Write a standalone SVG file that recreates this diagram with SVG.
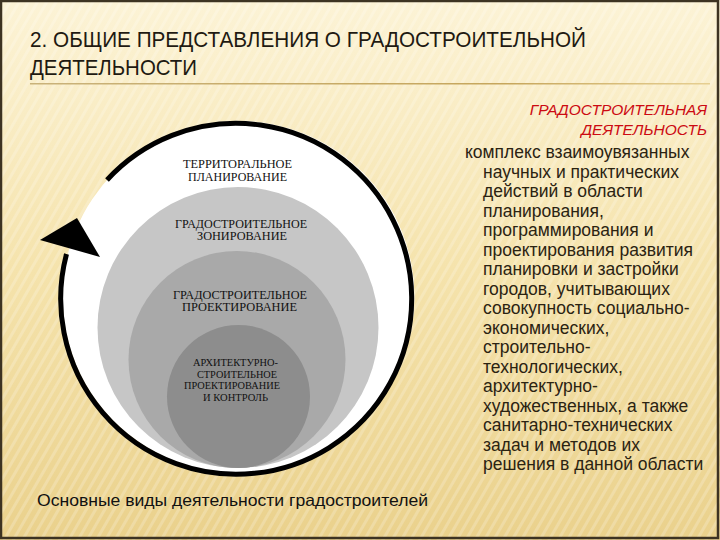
<svg xmlns="http://www.w3.org/2000/svg" width="720" height="540" viewBox="0 0 720 540">
<defs>
  <linearGradient id="bg" x1="0" y1="0" x2="0" y2="1">
    <stop offset="0" stop-color="#fcf3d6"/>
    <stop offset="0.5" stop-color="#f5e3ac"/>
    <stop offset="1" stop-color="#ead18c"/>
  </linearGradient>
  <pattern id="stripes" width="8" height="8" patternUnits="userSpaceOnUse" patternTransform="rotate(30)">
    <rect width="3" height="8" fill="#ffffff" opacity="0.2"/>
  </pattern>
  <linearGradient id="rule" x1="0" y1="0" x2="1" y2="0">
    <stop offset="0" stop-color="#c9b27a"/>
    <stop offset="0.7" stop-color="#c6a65c"/>
    <stop offset="1" stop-color="#e6cf92"/>
  </linearGradient>
  <style>
    .ring { font-family: "Liberation Serif", "DejaVu Serif", serif; font-size: 11.5px; fill: #111; text-anchor: middle; }
    .small { font-size: 10.5px; }
    .body { font-family: "Liberation Sans", Arial, sans-serif; font-size: 17.5px; fill: #2b2312; }
    .red { font-family: "Liberation Sans", Arial, sans-serif; font-size: 15.5px; font-style: italic; fill: #cc0a12; text-anchor: end; }
    .title { font-family: "Liberation Sans", Arial, sans-serif; font-size: 22px; fill: #1f1a12; }
  </style>
</defs>
<rect width="720" height="540" fill="url(#bg)"/>
<rect width="720" height="540" fill="url(#stripes)"/>
<rect x="1" y="1" width="717" height="537" fill="none" stroke="#3d3322" stroke-width="2.5"/>

<g id="title">
  <text class="title" x="30" y="47" textLength="556" lengthAdjust="spacingAndGlyphs">2. ОБЩИЕ ПРЕДСТАВЛЕНИЯ О ГРАДОСТРОИТЕЛЬНОЙ</text>
  <text class="title" x="30" y="75" textLength="167" lengthAdjust="spacingAndGlyphs">ДЕЯТЕЛЬНОСТИ</text>
  <rect x="30" y="83" width="680" height="1.5" fill="url(#rule)"/>
</g>

<g id="outer">
  <circle cx="238.5" cy="297" r="176" fill="#ffffff"/>
</g>
<g id="connectors">
  <path d="M 107 180 A 175.5 175.5 0 1 1 66.5 254" fill="none" stroke="#000" stroke-width="5"/>
  <polygon points="77,218 40,240 100,257" fill="#000"/>
</g>
<g id="node-planning">
  <text class="ring" x="237.5" y="168" textLength="109" lengthAdjust="spacingAndGlyphs">ТЕРРИТОРАЛЬНОЕ</text>
  <text class="ring" x="237.5" y="181" textLength="99" lengthAdjust="spacingAndGlyphs">ПЛАНИРОВАНИЕ</text>
</g>
<g id="node-zoning">
  <circle cx="238" cy="327.5" r="140.5" fill="#c6c6c6"/>
  <text class="ring" x="241" y="228" textLength="132" lengthAdjust="spacingAndGlyphs">ГРАДОСТРОИТЕЛЬНОЕ</text>
  <text class="ring" x="242" y="240" textLength="90" lengthAdjust="spacingAndGlyphs">ЗОНИРОВАНИЕ</text>
</g>
<g id="node-design">
  <circle cx="237" cy="359.5" r="108.5" fill="#a9a9a9"/>
  <text class="ring" x="240" y="299" textLength="134" lengthAdjust="spacingAndGlyphs">ГРАДОСТРОИТЕЛЬНОЕ</text>
  <text class="ring" x="239.5" y="311" textLength="115" lengthAdjust="spacingAndGlyphs">ПРОЕКТИРОВАНИЕ</text>
</g>
<g id="node-arch">
  <circle cx="238.5" cy="396.5" r="71.5" fill="#8d8d8d"/>
  <text class="ring small" x="235.5" y="366" textLength="85" lengthAdjust="spacingAndGlyphs">АРХИТЕКТУРНО-</text>
  <text class="ring small" x="237" y="377.5" textLength="80" lengthAdjust="spacingAndGlyphs">СТРОИТЕЛЬНОЕ</text>
  <text class="ring small" x="232" y="389" textLength="96" lengthAdjust="spacingAndGlyphs">ПРОЕКТИРОВАНИЕ</text>
  <text class="ring small" x="235.5" y="401" textLength="65" lengthAdjust="spacingAndGlyphs">И КОНТРОЛЬ</text>
</g>

<g id="caption">
  <text x="37" y="506" style="font-family:'Liberation Sans',Arial,sans-serif;font-size:16.5px;fill:#111" textLength="391" lengthAdjust="spacingAndGlyphs">Основные виды деятельности градостроителей</text>
</g>

<g id="definition">
  <text class="red" x="707" y="115">ГРАДОСТРОИТЕЛЬНАЯ</text>
  <text class="red" x="707" y="135">ДЕЯТЕЛЬНОСТЬ</text>
  <text class="body" x="465" y="158">комплекс взаимоувязанных</text>
  <text class="body" x="483" y="177.5">научных и практических</text>
  <text class="body" x="483" y="197">действий в области</text>
  <text class="body" x="483" y="216.5">планирования,</text>
  <text class="body" x="483" y="236">программирования и</text>
  <text class="body" x="483" y="255.5">проектирования развития</text>
  <text class="body" x="483" y="275">планировки и застройки</text>
  <text class="body" x="483" y="294.5">городов, учитывающих</text>
  <text class="body" x="483" y="314">совокупность социально-</text>
  <text class="body" x="483" y="333.5">экономических,</text>
  <text class="body" x="483" y="353">строительно-</text>
  <text class="body" x="483" y="372.5">технологических,</text>
  <text class="body" x="483" y="392">архитектурно-</text>
  <text class="body" x="483" y="411.5">художественных, а также</text>
  <text class="body" x="483" y="431">санитарно-технических</text>
  <text class="body" x="483" y="450.5">задач и методов их</text>
  <text class="body" x="483" y="470">решения в данной области</text>
</g>
</svg>
